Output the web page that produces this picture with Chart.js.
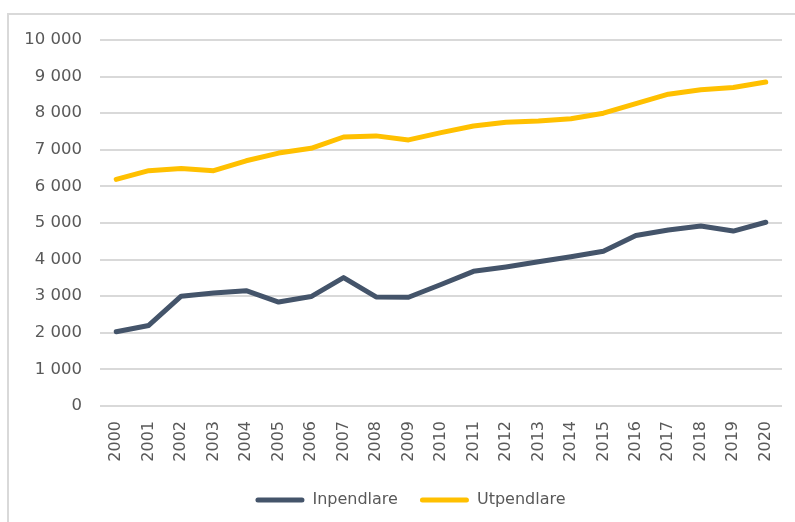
<!DOCTYPE html>
<html>
<head>
<meta charset="utf-8">
<script src="https://cdn.jsdelivr.net/npm/chart.js@4/dist/chart.umd.min.js"></script>
<style>
  html, body { margin: 0; padding: 0; background: #fff; }
  #wrap { position: relative; width: 795px; height: 522px; overflow: hidden; }
  #frame { position: absolute; left: 7px; top: 13px; width: 900px; height: 700px;
           border-left: 2px solid #d9d9d9; border-top: 2px solid #d9d9d9; box-sizing: border-box; }
  canvas { position: absolute; left: 0; top: 0; }
</style>
</head>
<body>
<div id="wrap">
  <div id="frame"></div>
  <canvas id="c" width="795" height="522"></canvas>
</div>
<script>
const years = ["2000","2001","2002","2003","2004","2005","2006","2007","2008","2009","2010",
               "2011","2012","2013","2014","2015","2016","2017","2018","2019","2020"];
const inpendlare = [2030, 2200, 3000, 3090, 3150, 2840, 2990, 3510, 2980, 2970, 3320,
                    3680, 3800, 3940, 4080, 4230, 4660, 4810, 4920, 4780, 5020];
const utpendlare = [6190, 6430, 6490, 6430, 6700, 6910, 7040, 7350, 7380, 7270, 7470,
                    7650, 7750, 7790, 7850, 8000, 8260, 8520, 8640, 8700, 8850];
const yTicks = [0, 1000, 2000, 3000, 4000, 5000, 6000, 7000, 8000, 9000, 10000];

const fmt = v => String(v).replace(/\B(?=(\d{3})+(?!\d))/g, "\u00a0");
const FONT = "'DejaVu Sans', sans-serif";

const legendShift = {
  id: "legendShift",
  afterLayout(chart) {
    const lg = chart.legend;
    if (lg) { lg.left = 39; lg.right = 782; }
  }
};

new Chart(document.getElementById("c"), {
  type: "line",
  data: {
    labels: years,
    datasets: [
      { label: "Inpendlare", data: inpendlare, borderColor: "#44546A", backgroundColor: "#44546A",
        borderWidth: 5, pointRadius: 0, tension: 0, borderJoinStyle: "round", borderCapStyle: "round" },
      { label: "Utpendlare", data: utpendlare, borderColor: "#FFC000", backgroundColor: "#FFC000",
        borderWidth: 5, pointRadius: 0, tension: 0, borderJoinStyle: "round", borderCapStyle: "round" }
    ]
  },
  plugins: [legendShift],
  options: {
    responsive: false,
    animation: false,
    layout: { padding: { left: 16, right: 13, top: 40, bottom: 4 } },
    plugins: {
      tooltip: { enabled: false },
      legend: {
        position: "bottom",
        labels: {
          boxWidth: 49, boxHeight: 5, padding: 22,
          color: "#595959",
          font: { family: FONT, size: 16 },
          generateLabels: (chart) => Chart.defaults.plugins.legend.labels.generateLabels(chart)
            .map(l => Object.assign(l, { lineWidth: 0, borderRadius: 2.5 }))
        }
      }
    },
    scales: {
      x: {
        offset: true,
        grid: { display: false, drawTicks: false },
        border: { display: false },
        ticks: { minRotation: 90, maxRotation: 90, autoSkip: false, padding: 15,
                 color: "#595959", font: { family: FONT, size: 16 } },
        afterFit: (s) => { s.height = 64; s.paddingLeft = 0; s.paddingRight = 0; }
      },
      y: {
        min: 0, max: 10000,
        afterBuildTicks: (s) => { s.ticks = yTicks.map(v => ({ value: v })); },
        grid: { color: "#d9d9d9", lineWidth: 2, drawTicks: false },
        border: { display: false },
        ticks: { padding: 18, color: "#595959", font: { family: FONT, size: 16.5 },
                 callback: (v) => fmt(v) },
        afterFit: (s) => { s.width = 84; }
      }
    }
  }
});
</script>
</body>
</html>
